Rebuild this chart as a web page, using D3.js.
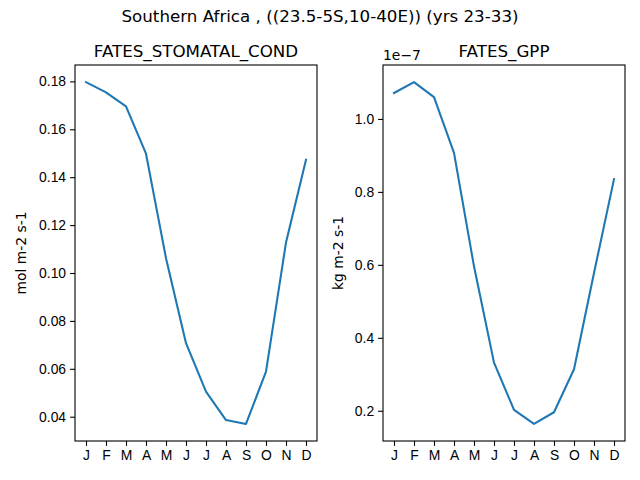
<!DOCTYPE html>
<html>
<head>
<meta charset="utf-8">
<script src="https://cdn.jsdelivr.net/npm/d3@7"></script>
<style>
	body { margin: 0; background: #fff; }
	svg { font-family: 'DejaVu Sans', sans-serif; }
	.tick text { font-size: 13.9px; fill: #000; }
	.tick line, .domain { stroke: #000; }
</style>
</head>
<body>
<div id="chart"></div>
<script>
var months = ['J', 'F', 'M', 'A', 'M', 'J', 'J', 'A', 'S', 'O', 'N', 'D'];
var stomatalCond = [0.1797, 0.1754, 0.1696, 0.1498, 0.1062, 0.0707, 0.0505, 0.0386, 0.0370, 0.0588, 0.1127, 0.1473];
var gpp = [1.071e-7, 1.101e-7, 1.060e-7, 0.907e-7, 0.596e-7, 0.332e-7, 0.2025e-7, 0.164e-7, 0.196e-7, 0.314e-7, 0.5775e-7, 0.835e-7];
var stomatalTicks = [0.04, 0.06, 0.08, 0.10, 0.12, 0.14, 0.16, 0.18];
var gppTicks = [0.2e-7, 0.4e-7, 0.6e-7, 0.8e-7, 1.0e-7];

var width = 640;
var height = 480;
var plotTop = 65;
var plotBottom = 441;

var svg = d3.select('#chart')
	.append('svg')
	.attr('width', width)
	.attr('height', height);

svg.append('text')
	.attr('x', 320)
	.attr('y', 22)
	.attr('text-anchor', 'middle')
	.style('font-size', '16.7px')
	.text('Southern Africa , ((23.5-5S,10-40E)) (yrs 23-33)');

drawPanel({
	left: 75,
	right: 317,
	data: stomatalCond,
	ticks: stomatalTicks,
	format: function(d) { return d.toFixed(2); },
	title: 'FATES_STOMATAL_COND',
	ylabel: 'mol m-2 s-1',
	ylabelX: 26
});

drawPanel({
	left: 383,
	right: 625,
	data: gpp,
	ticks: gppTicks,
	format: function(d) { return (d / 1e-7).toFixed(1); },
	title: 'FATES_GPP',
	ylabel: 'kg m-2 s-1',
	ylabelX: 343,
	offset: '1e\u22127'
});

// one subplot
function drawPanel(opt) {
	var idx = d3.range(months.length);

	// matplotlib-like 5% margins
	var span = opt.right - opt.left;
	var inner = span / 1.1;
	var xScale = d3.scalePoint()
		.domain(idx)
		.range([opt.left + (span - inner) / 2, opt.right - (span - inner) / 2])
		.padding(0);

	var lo = d3.min(opt.data);
	var hi = d3.max(opt.data);
	var pad = (hi - lo) * 0.05;
	var yScale = d3.scaleLinear()
		.domain([lo - pad, hi + pad])
		.range([plotBottom, plotTop]);

	var g = svg.append('g');

	g.append('g')
		.attr('transform', 'translate(0,' + plotBottom + ')')
		.call(d3.axisBottom(xScale)
			.tickFormat(function(i) { return months[i]; })
			.tickSize(4.9)
			.tickPadding(4))
		.call(function(a) {
			a.select('.domain').remove();
		});

	g.append('g')
		.attr('transform', 'translate(' + opt.left + ',0)')
		.call(d3.axisLeft(yScale)
			.tickValues(opt.ticks)
			.tickFormat(opt.format)
			.tickSize(4.9)
			.tickPadding(4))
		.call(function(a) {
			a.select('.domain').remove();
		});

	g.selectAll('.tick line').attr('stroke-width', 1.1);

	g.append('path')
		.datum(opt.data)
		.attr('fill', 'none')
		.attr('stroke', '#1f77b4')
		.attr('stroke-width', 2.08)
		.attr('stroke-linejoin', 'round')
		.attr('stroke-linecap', 'square')
		.attr('d', d3.line()
			.x(function(d, i) { return xScale(i); })
			.y(function(d) { return yScale(d); }));

	g.append('rect')
		.attr('x', opt.left)
		.attr('y', plotTop)
		.attr('width', opt.right - opt.left)
		.attr('height', plotBottom - plotTop)
		.attr('fill', 'none')
		.attr('stroke', '#000')
		.attr('stroke-width', 1.1);

	g.append('text')
		.attr('x', (opt.left + opt.right) / 2)
		.attr('y', plotTop - 8)
		.attr('text-anchor', 'middle')
		.style('font-size', '16.7px')
		.text(opt.title);

	g.append('text')
		.attr('transform', 'translate(' + opt.ylabelX + ',' + ((plotTop + plotBottom) / 2) + ') rotate(-90)')
		.attr('text-anchor', 'middle')
		.style('font-size', '13.9px')
		.text(opt.ylabel);

	if (opt.offset) {
		g.append('text')
			.attr('x', opt.left)
			.attr('y', plotTop - 5)
			.style('font-size', '13.9px')
			.text(opt.offset);
	}
}
</script>
</body>
</html>
